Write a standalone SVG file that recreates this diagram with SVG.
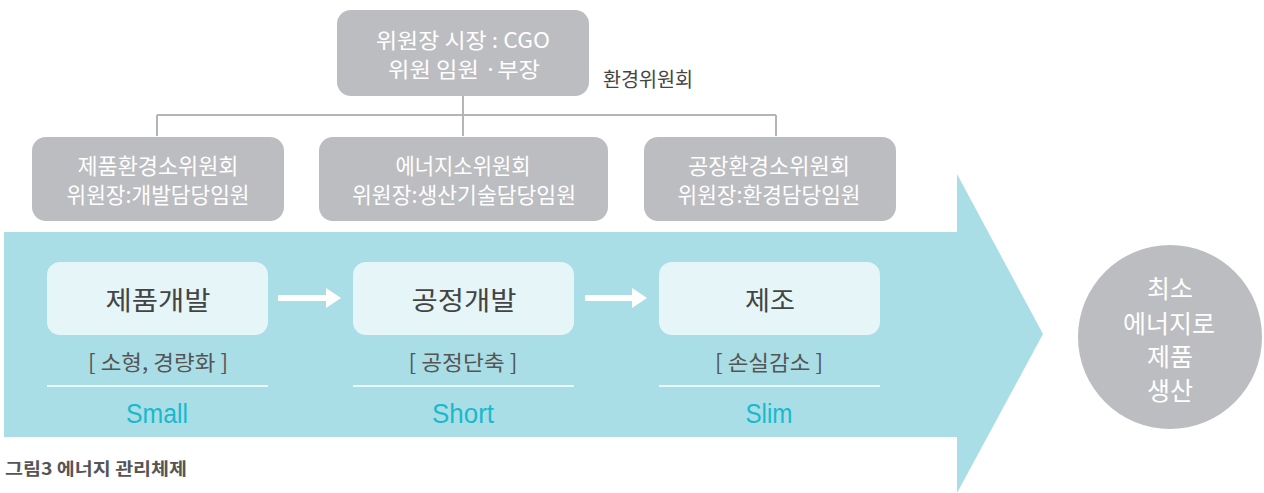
<svg xmlns="http://www.w3.org/2000/svg" width="1264" height="493" viewBox="0 0 1264 493">
<style>
.t{font-family:"Noto Sans CJK KR","Liberation Sans",sans-serif;text-anchor:middle}
.gbox{fill:#bcbdc0}
.wt{fill:#ffffff;font-size:22px}
.ibox{fill:#e6f5f8}
.name{fill:#444;font-size:26px}
.sub{fill:#555;font-size:21px}
.en{fill:#19b9cd;font-size:27px;font-family:"Liberation Sans",sans-serif;text-anchor:middle}
.ct{fill:#ffffff;font-size:25px}
.conn{stroke:#b4b5b8;stroke-width:2;fill:none}
.sep{stroke:#ffffff;stroke-width:1.5}
</style>
<rect width="1264" height="493" fill="#ffffff"/>
<polygon id="bigArrow" points="4,232 957,232 957,174 1043,334 957,493 957,437 4,437" fill="#a9dee6"/>
<g id="connectors">
<path class="conn" d="M463,96 V115 M157,115 H776 M157,115 V136 M463,115 V136 M776,115 V136"/>
<g fill="#ffffff">
<path d="M278,295 H326 V288 L341,298 L326,308 V301 H278 Z"/>
<path d="M585,295 H632 V288 L647,298 L632,308 V301 H585 Z"/>
</g>
</g>
<g id="committee">
<rect class="gbox" x="337" y="10" width="252" height="86" rx="14"/>
<text class="t wt" x="463" y="48" font-size="21" textLength="174" lengthAdjust="spacingAndGlyphs" style="font-size:21px">위원장 시장 : CGO</text>
<text class="t wt" x="464" y="77" textLength="152" lengthAdjust="spacingAndGlyphs" style="font-size:21px">위원 임원  ·부장</text>
</g>
<text x="603" y="87" font-family="Noto Sans CJK KR, Liberation Sans, sans-serif" font-size="20" fill="#444" textLength="90" lengthAdjust="spacingAndGlyphs">환경위원회</text>
<g id="sub1">
<rect class="gbox" x="32" y="137" width="252" height="84" rx="14"/>
<text class="t wt" x="158" y="174" textLength="161" lengthAdjust="spacingAndGlyphs">제품환경소위원회</text>
<text class="t wt" x="158" y="203" textLength="183" lengthAdjust="spacingAndGlyphs">위원장:개발담당임원</text>
</g>
<g id="sub2">
<rect class="gbox" x="319" y="137" width="289" height="84" rx="14"/>
<text class="t wt" x="463" y="174" textLength="135" lengthAdjust="spacingAndGlyphs">에너지소위원회</text>
<text class="t wt" x="464" y="203" textLength="224" lengthAdjust="spacingAndGlyphs">위원장:생산기술담당임원</text>
</g>
<g id="sub3">
<rect class="gbox" x="644" y="137" width="252" height="84" rx="14"/>
<text class="t wt" x="769" y="174" textLength="162" lengthAdjust="spacingAndGlyphs">공장환경소위원회</text>
<text class="t wt" x="769" y="203" textLength="183" lengthAdjust="spacingAndGlyphs">위원장:환경담당임원</text>
</g>
<g id="step1">
<rect class="ibox" x="47" y="262" width="221" height="73" rx="13"/>
<text class="t name" x="158" y="310" textLength="105" lengthAdjust="spacingAndGlyphs">제품개발</text>
<text class="t sub" x="158" y="370" textLength="140" lengthAdjust="spacingAndGlyphs">[ 소형, 경량화 ]</text>
<line class="sep" x1="47" y1="386" x2="268" y2="386"/>
<text class="en" x="157" y="423" textLength="62" lengthAdjust="spacingAndGlyphs">Small</text>
</g>
<g id="step2">
<rect class="ibox" x="353" y="262" width="221" height="73" rx="13"/>
<text class="t name" x="464" y="310" textLength="105" lengthAdjust="spacingAndGlyphs">공정개발</text>
<text class="t sub" x="463" y="370" textLength="109" lengthAdjust="spacingAndGlyphs">[ 공정단축 ]</text>
<line class="sep" x1="353" y1="386" x2="574" y2="386"/>
<text class="en" x="463" y="423" textLength="62" lengthAdjust="spacingAndGlyphs">Short</text>
</g>
<g id="step3">
<rect class="ibox" x="659" y="262" width="221" height="73" rx="13"/>
<text class="t name" x="770" y="310" textLength="50" lengthAdjust="spacingAndGlyphs">제조</text>
<text class="t sub" x="769" y="370" textLength="108" lengthAdjust="spacingAndGlyphs">[ 손실감소 ]</text>
<line class="sep" x1="659" y1="386" x2="880" y2="386"/>
<text class="en" x="769" y="423" textLength="47" lengthAdjust="spacingAndGlyphs">Slim</text>
</g>
<g id="result">
<circle cx="1170" cy="337" r="92" fill="#bcbdc0"/>
<text class="t ct" x="1170" y="298" textLength="46" lengthAdjust="spacingAndGlyphs">최소</text>
<text class="t ct" x="1169" y="333" textLength="92" lengthAdjust="spacingAndGlyphs">에너지로</text>
<text class="t ct" x="1170" y="366" textLength="46" lengthAdjust="spacingAndGlyphs">제품</text>
<text class="t ct" x="1170" y="400" textLength="46" lengthAdjust="spacingAndGlyphs">생산</text>
</g>
<text x="5" y="475" font-family="Noto Sans CJK KR, Liberation Sans, sans-serif" font-size="17" font-weight="bold" fill="#555" textLength="182" lengthAdjust="spacingAndGlyphs">그림3 에너지 관리체제</text>
</svg>
